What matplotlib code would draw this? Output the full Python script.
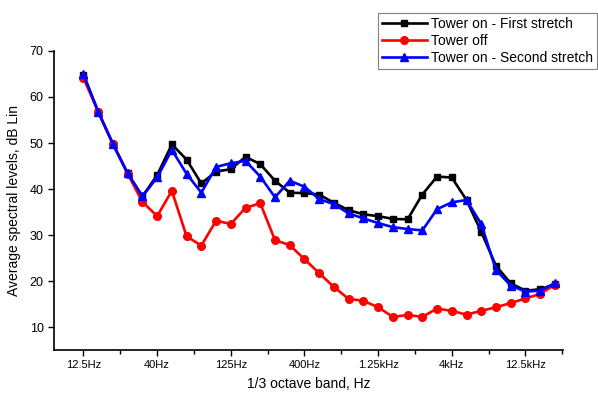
import matplotlib
matplotlib.use("Agg")
import matplotlib.pyplot as plt
import numpy as np

plt.rcParams['font.family'] = ['Liberation Sans', 'DejaVu Sans']

bands = ["12.5Hz", "16Hz", "20Hz", "25Hz", "31.5Hz", "40Hz", "50Hz", "63Hz", "80Hz", "100Hz",
         "125Hz", "160Hz", "200Hz", "250Hz", "315Hz", "400Hz", "500Hz", "630Hz", "800Hz", "1kHz",
         "1.25kHz", "1.6kHz", "2kHz", "2.5kHz", "3.15kHz", "4kHz", "5kHz", "6.3kHz", "8kHz", "10kHz",
         "12.5kHz", "16kHz", "20kHz"]

first_stretch = [64.8, 56.8, 49.8, 43.4, 38.4, 43.0, 49.7, 46.4, 41.2, 43.8,
                 44.3, 47.0, 45.4, 41.8, 39.2, 39.1, 38.8, 37.0, 35.4, 34.5,
                 34.1, 33.5, 33.4, 38.8, 42.7, 42.5, 37.6, 30.7, 23.3, 19.5,
                 17.9, 18.2, 19.3]

tower_off = [64.1, 56.8, 49.8, 43.3, 37.2, 34.1, 39.6, 29.7, 27.7, 33.1,
             32.4, 35.9, 36.9, 28.9, 27.8, 24.75, 21.7, 18.7, 16.1, 15.7,
             14.3, 12.2, 12.6, 12.2, 14.0, 13.5, 12.7, 13.5, 14.3, 15.2,
             16.2, 17.2, 19.2]

second_stretch = [64.9, 56.8, 49.8, 43.4, 38.4, 42.5, 48.5, 43.3, 39.2, 44.8,
                  45.6, 46.1, 42.7, 38.2, 41.8, 40.5, 37.8, 36.7, 34.7, 33.6,
                  32.6, 31.7, 31.3, 31.0, 35.6, 37.1, 37.6, 32.4, 22.4, 19.0,
                  17.7, 17.9, 19.5]

tick_idx = [0, 5, 10, 15, 20, 25, 30]

fig = plt.figure(figsize=(5.98, 3.96), dpi=100)
ax = fig.add_axes([54/598, 1-350/396, (563-54)/598, (350-51)/396])

x = np.arange(len(bands))
lw = 1.9
ax.plot(x, first_stretch, color='black', marker='s', markersize=5, lw=lw,
        label='Tower on - First stretch', zorder=3)
ax.plot(x, tower_off, color='red', marker='o', markersize=5.5, lw=lw,
        label='Tower off', zorder=3)
ax.plot(x, second_stretch, color='blue', marker='^', markersize=6, lw=lw,
        label='Tower on - Second stretch', zorder=4)

ax.set_xlim(-2, 32.55)
ax.set_ylim(5, 70)
ax.set_xticks(tick_idx)
ax.set_xticklabels([bands[i] for i in tick_idx], fontsize=8)
ax.set_xticks([i + 2.5 for i in tick_idx], minor=True)
ax.set_yticks([10, 20, 30, 40, 50, 60, 70])
ax.tick_params(axis='y', labelsize=9)
ax.tick_params(which='major', direction='out', length=4, width=1)
ax.tick_params(which='minor', direction='out', length=3, width=1)
ax.tick_params(axis='x', pad=3)

for s in ['top', 'right']:
    ax.spines[s].set_visible(False)
for s in ['left', 'bottom']:
    ax.spines[s].set_linewidth(1.2)

ax.set_xlabel('1/3 octave band, Hz', fontsize=10, labelpad=5)
ax.set_ylabel('Average spectral levels, dB Lin', fontsize=10, labelpad=6)

leg = fig.legend(loc='upper right', bbox_to_anchor=(597/598, 1-13/396),
                 bbox_transform=fig.transFigure, fontsize=10, fancybox=False,
                 framealpha=1, edgecolor='#808080', borderpad=0.3,
                 handlelength=3.2, handletextpad=0.3, labelspacing=0.2,
                 borderaxespad=0)
leg.get_frame().set_linewidth(0.8)

fig.savefig('out.png', dpi=100)
